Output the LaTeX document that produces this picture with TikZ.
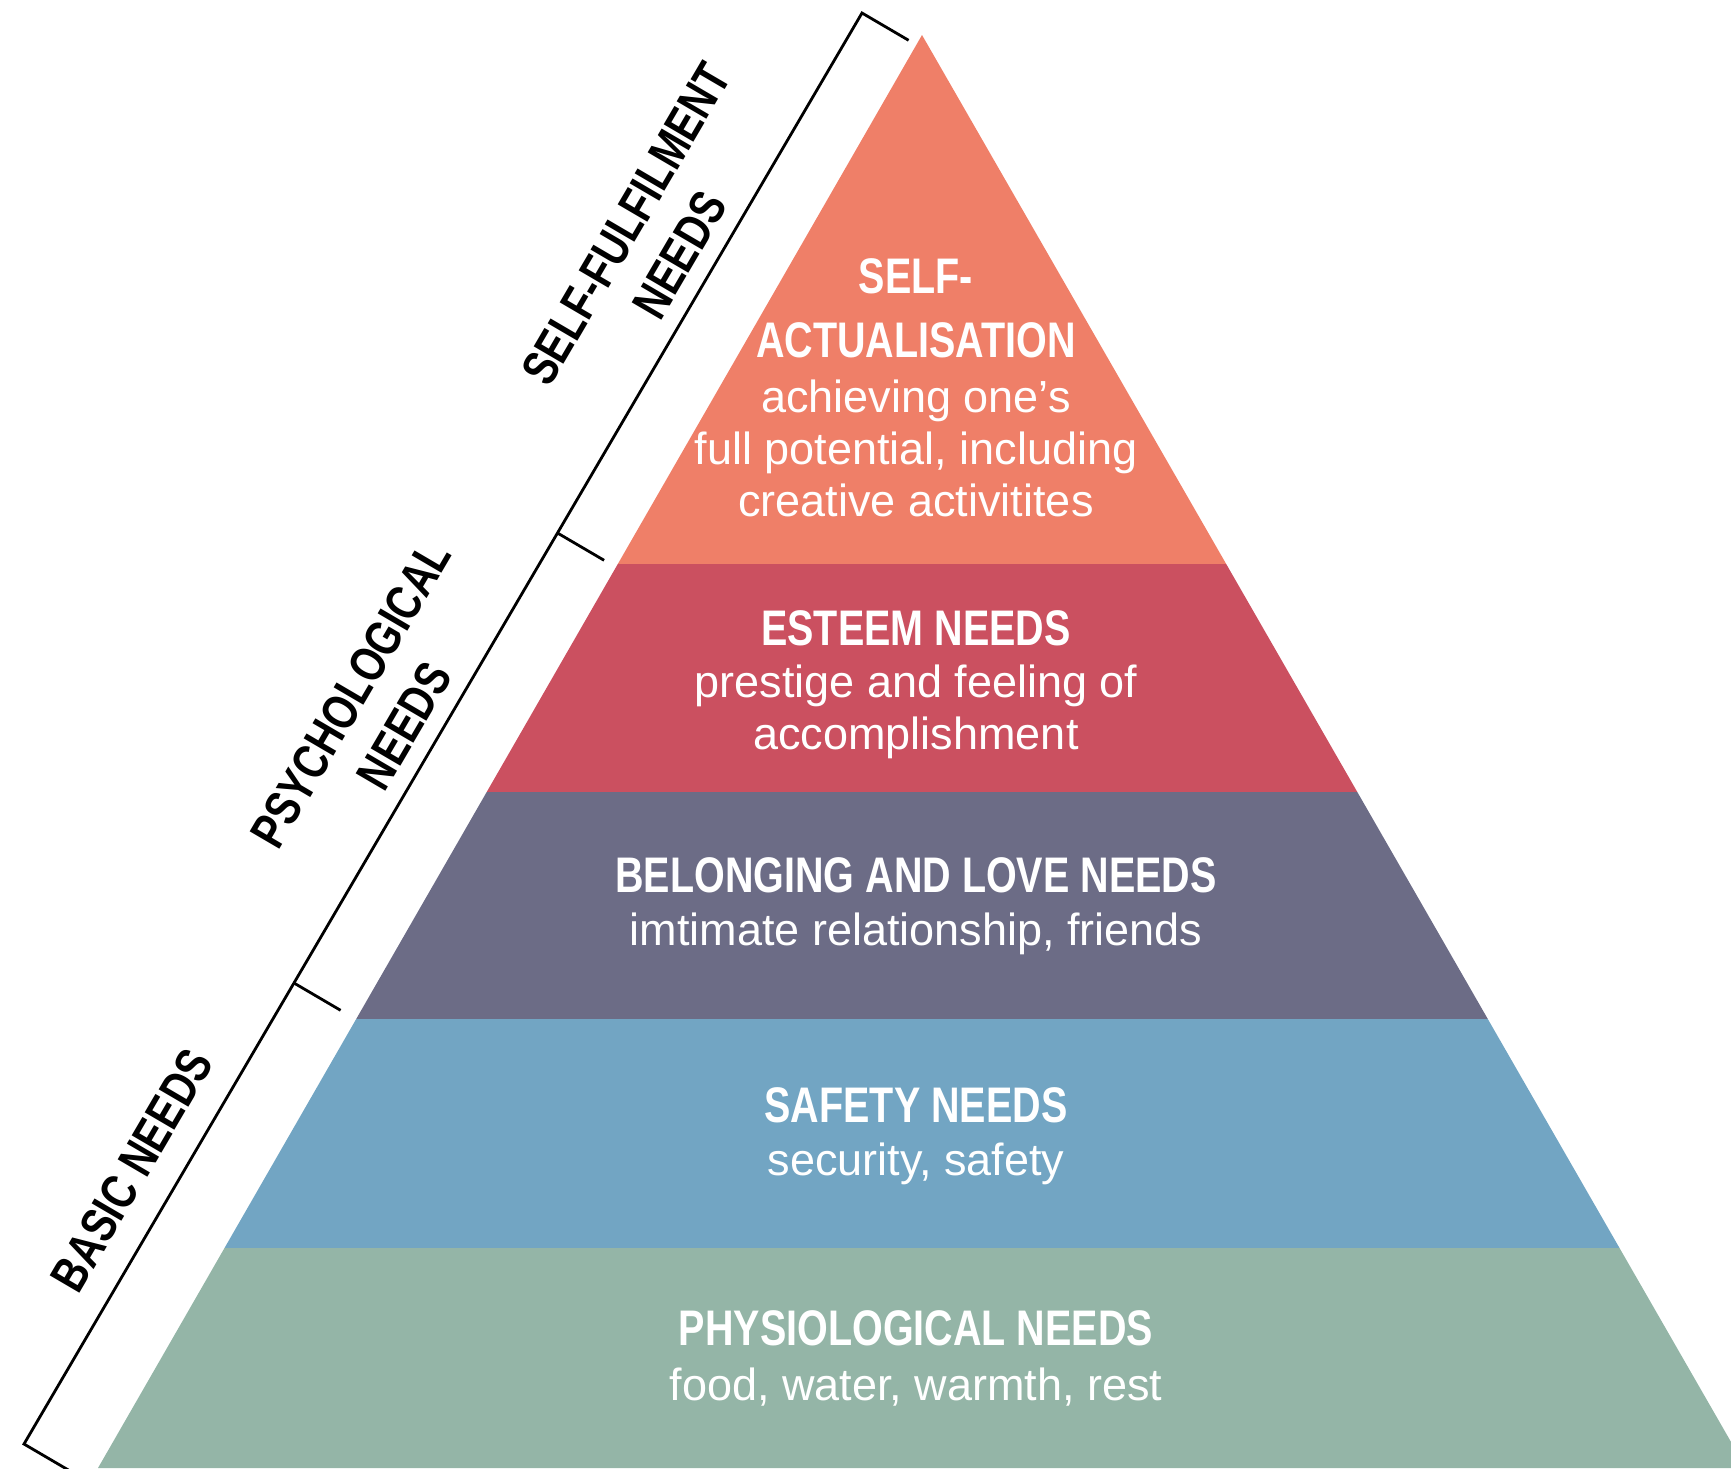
\documentclass[tikz,border=0pt]{standalone}
\usepackage{fontspec}
\setmainfont{Liberation Sans}
\newfontfamily\headfont{Liberation Sans}[FakeStretch=0.79]
\newfontfamily\descfont{Liberation Sans}
\definecolor{cself}{HTML}{EF7F68}
\definecolor{cesteem}{HTML}{CB5060}
\definecolor{cbelong}{HTML}{6C6C86}
\definecolor{csafety}{HTML}{72A5C3}
\definecolor{cphysio}{HTML}{94B5A7}
\begin{document}
\begin{tikzpicture}[x=1pt,y=-1pt,
  head/.style={text=white,font={\headfont\bfseries\fontsize{50}{60}\selectfont},anchor=base,inner sep=0pt},
  desc/.style={text=white,font={\descfont\fontsize{45}{54}\selectfont},anchor=base,inner sep=0pt},
  side/.style={text=black,font={\headfont\bfseries\fontsize{50}{62}\selectfont},align=center,rotate=59.65,inner sep=0pt},
  bracket/.style={line width=2.8pt,draw=black,line join=miter}]
\useasboundingbox (0,0) rectangle (1731,1468);
\begin{scope}
\clip (0,0) rectangle (1731,1468);
% pyramid layers
\fill[cself]   (922,35) -- (1226.2,564) -- (617.8,564) -- cycle;
\fill[cesteem] (617.8,564) -- (1226.2,564) -- (1357.3,792) -- (486.7,792) -- cycle;
\fill[cbelong] (486.7,792) -- (1357.3,792) -- (1487.8,1019) -- (356.2,1019) -- cycle;
\fill[csafety] (356.2,1019) -- (1487.8,1019) -- (1619.5,1248) -- (224.5,1248) -- cycle;
\fill[cphysio] (224.5,1248) -- (1619.5,1248) -- (1746,1468) -- (98,1468) -- cycle;
% bracket
\coordinate (bt1) at (908.6,40.3);
\coordinate (bt0) at (862,13);
\coordinate (bb0) at (24,1444);
\coordinate (bb1) at (70.6,1471.3);
\coordinate (ta0) at (557.5,533);
\coordinate (ta1) at (604.1,560.3);
\coordinate (tb0) at (294,983);
\coordinate (tb1) at (340.6,1010.3);
\draw[bracket] (bt1) -- (bt0) -- (bb0) -- (bb1);
\draw[bracket] (ta0) -- (ta1);
\draw[bracket] (tb0) -- (tb1);
\end{scope}
% layer texts
\node[head] (s1) at (916,293) {SELF-};
\node[head] (s2) at (916,357) {ACTUALISATION};
\node[desc] (s3) at (916,412) {achieving one’s};
\node[desc] (s4) at (916,464) {full potential, including};
\node[desc] (s5) at (916,516) {creative activitites};
\node[head] (e1) at (916,645) {ESTEEM NEEDS};
\node[desc] (e2) at (916,697) {prestige and feeling of};
\node[desc] (e3) at (916,749) {accomplishment};
\node[head] (b1) at (916,892) {BELONGING AND LOVE NEEDS};
\node[desc] (b2) at (916,945) {imtimate relationship, friends};
\node[head] (f1) at (916,1122) {SAFETY NEEDS};
\node[desc] (f2) at (916,1175) {security, safety};
\node[head] (p1) at (916,1345) {PHYSIOLOGICAL NEEDS};
\node[desc] (p2) at (916,1400) {food, water, warmth, rest};
% side labels
\node[side] (l1) at (653,239.5) {SELF-FULFILMENT\\NEEDS};
\node[side] (l3) at (377.5,710) {PSYCHOLOGICAL\\NEEDS};
\node[side] (l5) at (132,1170) {BASIC NEEDS};
\end{tikzpicture}
\end{document}
